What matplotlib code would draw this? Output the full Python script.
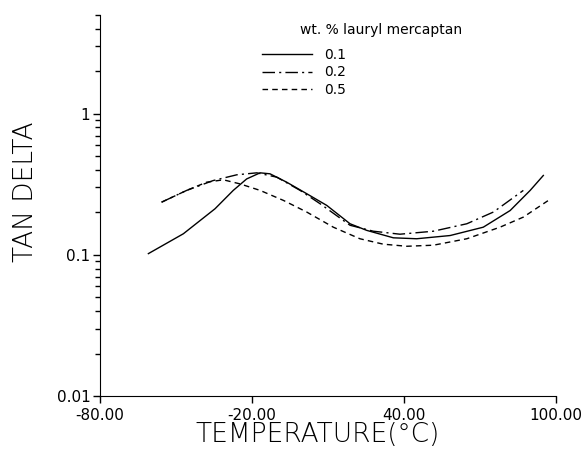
import matplotlib
matplotlib.use("Agg")
import matplotlib.pyplot as plt
from matplotlib.lines import Line2D
from matplotlib.ticker import FixedLocator, LogLocator, NullFormatter

# wt.% lauryl mercaptan = 0.1
t_01 = [-60.9, -47.1, -34.6, -27.4, -22.1, -16.8, -12.9, -6.3, 1.6, 9.5,
        18.7, 25.3, 35.8, 45.0, 58.2, 71.3, 81.9, 89.8, 95.0]
tan_01 = [0.102, 0.141, 0.212, 0.286, 0.345, 0.381, 0.375, 0.327, 0.271, 0.224,
          0.166, 0.149, 0.132, 0.130, 0.137, 0.157, 0.206, 0.286, 0.365]

# 0.2
t_02 = [-55.7, -45.8, -35.3, -26.0, -18.1, -10.2, -1.0, 6.9, 18.7, 27.9,
        38.4, 51.6, 64.8, 75.3, 87.1]
tan_02 = [0.236, 0.286, 0.336, 0.369, 0.381, 0.355, 0.286, 0.230, 0.162, 0.147,
          0.140, 0.147, 0.166, 0.201, 0.286]

# 0.5
t_05 = [-55.7, -45.8, -37.9, -31.3, -24.7, -16.8, -7.6, 1.6, 12.1, 22.6,
        31.8, 41.1, 51.6, 64.8, 77.9, 87.1, 97.0]
tan_05 = [0.236, 0.286, 0.327, 0.340, 0.318, 0.286, 0.243, 0.201, 0.157, 0.130,
          0.119, 0.115, 0.117, 0.130, 0.157, 0.185, 0.243]

xticks = [-80, -20, 40, 100]
yticks = [0.01, 0.1, 1]
ytick_labels = ["0.01", "0.1", "1"]
labels = ["0.1", "0.2", "0.5"]

fig = plt.figure(figsize=(5.82, 4.5), dpi=100)
ax = fig.add_axes([100/582, 1-396/450, 456/582, 381/450])

ax.plot(t_01, tan_01, color="black", lw=1.0, ls="-")
ax.plot(t_02, tan_02, color="black", lw=1.0, ls=(0, (9, 3, 1.5, 3)))
ax.plot(t_05, tan_05, color="black", lw=1.0, ls=(0, (4, 3)))

ax.set_yscale("log")
ax.set_xlim(-80, 100)
ax.set_ylim(0.01, 5)
ax.spines["top"].set_visible(False)
ax.spines["right"].set_visible(False)

ax.xaxis.set_major_locator(FixedLocator(xticks))
ax.set_xticklabels(["{:.2f}".format(v) for v in xticks])
ax.yaxis.set_major_locator(FixedLocator(yticks))
ax.set_yticklabels(ytick_labels)
ax.yaxis.set_minor_locator(LogLocator(base=10, subs=range(2, 10)))
ax.yaxis.set_minor_formatter(NullFormatter())
ax.tick_params(which="major", length=5, width=1, labelsize=11, pad=2)
ax.tick_params(which="minor", length=3.5, width=1)
ax.tick_params(axis="x", pad=4)

ax.set_xlabel("TEMPERATURE(°C)", fontsize=19, fontweight="light")
ax.set_ylabel("TAN DELTA", fontsize=19, fontweight="light")
ax.xaxis.set_label_coords(0.478, -0.069)
ax.yaxis.set_label_coords(-0.135, 0.535)

handles = [Line2D([], [], color="black", lw=1.0, ls="-"),
           Line2D([], [], color="black", lw=1.0, ls=(0, (9, 3, 1.5, 3))),
           Line2D([], [], color="black", lw=1.0, ls=(0, (4, 3)))]
fig.legend(handles, labels, loc="upper left", frameon=False, fontsize=10,
           bbox_to_anchor=(262/582, 1-48/450), borderpad=0, borderaxespad=0,
           handlelength=3.6, handletextpad=0.9, labelspacing=0.25)
fig.text(300/582, 1-30/450, "wt. % lauryl mercaptan", fontsize=10, va="center")

fig.savefig("out.png", dpi=100)
